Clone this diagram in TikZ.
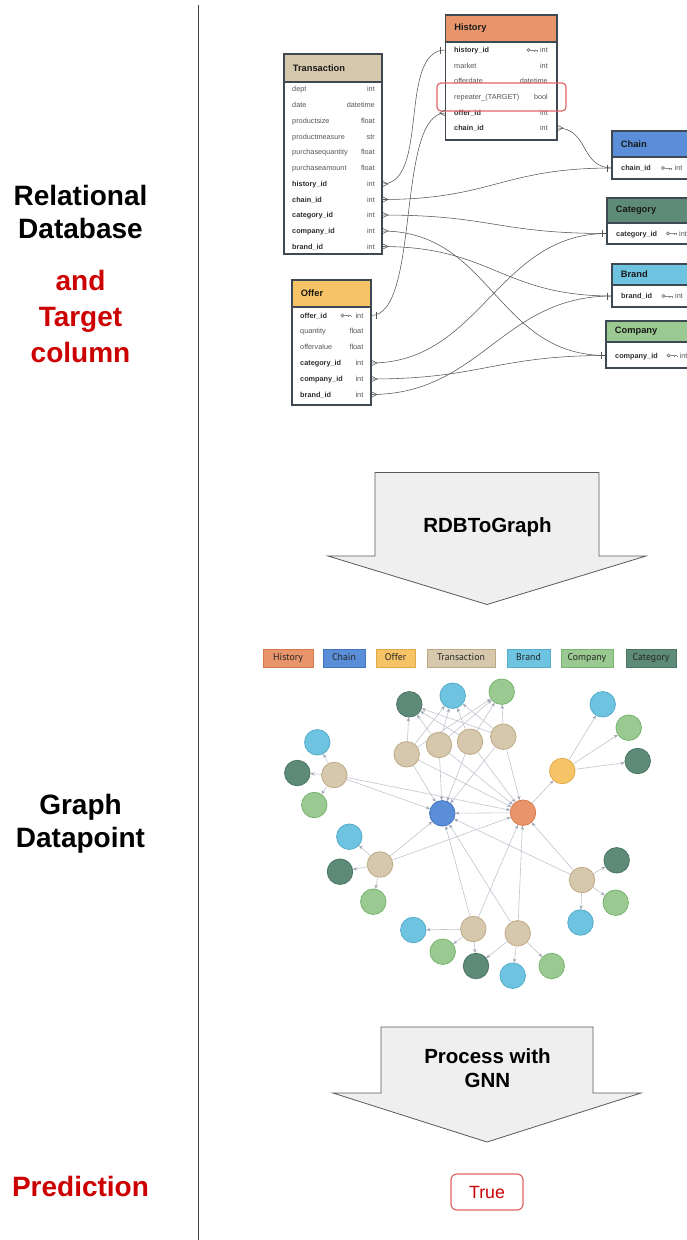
\documentclass[tikz,border=0pt]{standalone}
\usepackage{fontspec}
\setmainfont{Liberation Sans}
\newfontfamily\legfont{PT Sans}
\usetikzlibrary{arrows.meta,calc}
\pgfdeclarelayer{bg}
\pgfsetlayers{bg,main}
\definecolor{histc}{HTML}{E9956B}
\definecolor{histd}{HTML}{D67A4C}
\definecolor{chainc}{HTML}{5A8ED8}
\definecolor{chaind}{HTML}{4675BD}
\definecolor{offerc}{HTML}{F6C466}
\definecolor{offerd}{HTML}{E2A948}
\definecolor{transc}{HTML}{D6C8AD}
\definecolor{transd}{HTML}{BFA985}
\definecolor{brandc}{HTML}{6DC3E0}
\definecolor{brandd}{HTML}{55ADCB}
\definecolor{compc}{HTML}{9ACA92}
\definecolor{compd}{HTML}{78B46E}
\definecolor{catc}{HTML}{5E8B78}
\definecolor{catd}{HTML}{4A7463}
\definecolor{tblline}{HTML}{3E4954}
\definecolor{fkc}{HTML}{555555}
\definecolor{keyc}{HTML}{8A8A8A}
\definecolor{redline}{HTML}{E06666}
\definecolor{redtext}{HTML}{CC0000}
\definecolor{edgec}{HTML}{C2C4CE}
\definecolor{edgetip}{HTML}{A0A3B2}
\definecolor{arrowfill}{HTML}{EFEFEF}
\definecolor{arrowline}{HTML}{595959}
\definecolor{sepc}{HTML}{444444}
\definecolor{rowgray}{HTML}{555555}
\definecolor{rowdark}{HTML}{2E2E2E}

\tikzset{
  tbl/.style={draw=tblline, line width=1.1pt},
  tbltitle/.style={anchor=west, inner sep=0pt, font=\bfseries\fontsize{9.3}{10}\selectfont, text=black!90},
  keyrow/.style={inner sep=0pt, font=\bfseries\fontsize{7.3}{8}\selectfont, text=rowdark},
  plainrow/.style={inner sep=0pt, font=\fontsize{7.3}{8}\selectfont, text=rowgray},
  typetext/.style={inner sep=0pt, font=\fontsize{7.3}{8}\selectfont, text=rowgray},
  fkline/.style={draw=fkc, line width=0.55pt},
  keyicon/.pic={
    \draw[keyc, line width=0.9pt] (0,0) circle (1.6);
    \draw[keyc, line width=1pt] (1.6,0) -- (8.5,0) (6.3,0) -- (6.3,1.8) (8.5,0) -- (8.5,1.8);
  },
  manyR/.pic={\draw[fkline] (0,-3) -- (6,0) -- (0,3);},
  manyL/.pic={\draw[fkline] (0,-3) -- (-6,0) -- (0,3);},
  oneL/.pic={\draw[fkline] (-5,-3.5) -- (-5,3.5);},
  oneR/.pic={\draw[fkline] (5,-3.5) -- (5,3.5);},
  bigarrow/.style={fill=arrowfill, draw=arrowline, line width=0.8pt, line join=miter},
  biglabel/.style={anchor=base, inner sep=0pt, font=\bfseries\fontsize{20.5}{24}\selectfont},
  sidelabel/.style={anchor=base, inner sep=0pt, font=\bfseries\fontsize{28}{33}\selectfont},
  gnode/.style={circle, minimum size=25.5pt, inner sep=0pt, line width=0.8pt},
  ghist/.style={gnode, fill=histc, draw=histd},
  gchain/.style={gnode, fill=chainc, draw=chaind},
  goffer/.style={gnode, fill=offerc, draw=offerd},
  gtrans/.style={gnode, fill=transc, draw=transd},
  gbrand/.style={gnode, fill=brandc, draw=brandd},
  gcomp/.style={gnode, fill=compc, draw=compd},
  gcat/.style={gnode, fill=catc, draw=catd},
  gedge/.style={draw=edgec, line width=0.6pt, -{Stealth[length=4pt,width=3.4pt,color=edgetip,fill=edgetip]}},
  legbox/.style={minimum height=18pt, inner sep=0pt, text height=7pt, text depth=2pt, line width=0.8pt, font=\legfont\fontsize{9.8}{11}\selectfont, text=black!85},
}

\newcommand{\dbtbl}[8]{%
  \fill[#6] (#1,#2) rectangle (#3,#4);
  \fill[white] (#1,#4) rectangle (#3,#5);
  \draw[tbl] (#1,#4) -- (#3,#4);
  \draw[tbl] (#1,#2) rectangle (#3,#5);
  \node[tbltitle] (#8) at (#1+8.7,{(#2+#4)/2}) {#7};
}
\newcommand{\dbrow}[6]{%
  \node[#6, anchor=base west] at (#1,#3+2.6) {#4};
  \node[typetext, anchor=base east] at (#2,#3+2.6) {#5};
}

\begin{document}
\begin{tikzpicture}[x=1pt,y=-1pt]
\useasboundingbox (0,0) rectangle (687,1240);
\clip (0,0) rectangle (687,1240);

% separator
\draw[sepc, line width=0.8pt] (198.5,5) -- (198.5,1240);

% side labels
\node[sidelabel] (l1) at (80.5,205) {Relational};
\node[sidelabel] (l2) at (80.5,238) {Database};
\node[sidelabel, text=redtext] (l3) at (80.5,290) {and};
\node[sidelabel, text=redtext] (l4) at (80.5,326.5) {Target};
\node[sidelabel, text=redtext] (l5) at (80.5,362) {column};
\node[sidelabel] (l6) at (80.5,814) {Graph};
\node[sidelabel] (l7) at (80.5,847) {Datapoint};
\node[sidelabel, text=redtext] (l8) at (80.5,1196) {Prediction};

% ---------- tables ----------
% History
\dbtbl{445.5}{15}{557}{42}{140}{histc}{History}{tH}
\dbrow{454}{548}{50}{history\_id}{int}{keyrow}
\pic at (528.5,50) {keyicon};
\dbrow{454}{548}{65.5}{market}{int}{plainrow}
\dbrow{454}{548}{81}{offerdate}{datetime}{plainrow}
\dbrow{454}{548}{97}{repeater\_(TARGET)}{bool}{plainrow}
\dbrow{454}{548}{113}{offer\_id}{int}{keyrow}
\dbrow{454}{548}{128}{chain\_id}{int}{keyrow}

% Transaction
\dbtbl{284}{54}{382}{82}{254}{transc}{Transaction}{tT}
\dbrow{292}{375}{89}{dept}{int}{plainrow}
\dbrow{292}{375}{105}{date}{datetime}{plainrow}
\dbrow{292}{375}{121}{productsize}{float}{plainrow}
\dbrow{292}{375}{136.5}{productmeasure}{str}{plainrow}
\dbrow{292}{375}{152}{purchasequantity}{float}{plainrow}
\dbrow{292}{375}{168}{purchaseamount}{float}{plainrow}
\dbrow{292}{375}{184}{history\_id}{int}{keyrow}
\dbrow{292}{375}{199.5}{chain\_id}{int}{keyrow}
\dbrow{292}{375}{215}{category\_id}{int}{keyrow}
\dbrow{292}{375}{231}{company\_id}{int}{keyrow}
\dbrow{292}{375}{246.5}{brand\_id}{int}{keyrow}

% Offer
\dbtbl{292}{280}{371}{307}{405}{offerc}{Offer}{tO}
\dbrow{300}{363.5}{315.5}{offer\_id}{int}{keyrow}
\pic at (342.5,315.5) {keyicon};
\dbrow{300}{363.5}{331}{quantity}{float}{plainrow}
\dbrow{300}{363.5}{347}{offervalue}{float}{plainrow}
\dbrow{300}{363.5}{363}{category\_id}{int}{keyrow}
\dbrow{300}{363.5}{379}{company\_id}{int}{keyrow}
\dbrow{300}{363.5}{394.5}{brand\_id}{int}{keyrow}

% Chain
\dbtbl{612}{131}{700}{157}{179}{chainc}{Chain}{tC}
\node[keyrow, anchor=base west] at (621,170.6) {chain\_id};
\pic at (663,168) {keyicon};
\node[typetext, anchor=base west] at (674.5,170.6) {int};
% Category
\dbtbl{607}{198}{700}{223}{244}{catc}{Category}{tCa}
\node[keyrow, anchor=base west] at (616,236.1) {category\_id};
\pic at (668,233.5) {keyicon};
\node[typetext, anchor=base west] at (679,236.1) {int};
% Brand
\dbtbl{612}{264}{700}{285}{307}{brandc}{Brand}{tB}
\node[keyrow, anchor=base west] at (621,298.6) {brand\_id};
\pic at (663.5,296) {keyicon};
\node[typetext, anchor=base west] at (675,298.6) {int};
% Company
\dbtbl{606}{321}{700}{342}{368}{compc}{Company}{tCo}
\node[keyrow, anchor=base west] at (615,358.1) {company\_id};
\pic at (668.5,355.5) {keyicon};
\node[typetext, anchor=base west] at (679.5,358.1) {int};

% target highlight
\node[draw=redline, line width=1.2pt, rounded corners=4pt, minimum width=129pt, minimum height=28pt, inner sep=0pt] (target) at (501.5,97) {};

% connector end points
\coordinate (T-hist) at (382,184);
\coordinate (T-chain) at (382,199.5);
\coordinate (T-cat) at (382,215);
\coordinate (T-comp) at (382,231);
\coordinate (T-brand) at (382,246.5);
\coordinate (O-offer) at (371,315.5);
\coordinate (O-cat) at (371,363);
\coordinate (O-comp) at (371,379);
\coordinate (O-brand) at (371,394.5);
\coordinate (H-hist) at (445.5,50);
\coordinate (H-offer) at (445.5,113);
\coordinate (H-chain) at (557,128);
\coordinate (Ch-id) at (612,168);
\coordinate (Ca-id) at (607,233.5);
\coordinate (Br-id) at (612,296);
\coordinate (Co-id) at (606,355.5);

\draw[fkline] (T-hist) .. controls +(48,0) and +(-48,0) .. (H-hist);
\draw[fkline] (T-chain) .. controls +(110,0) and +(-110,0) .. (Ch-id);
\draw[fkline] (T-cat) .. controls +(110,0) and +(-110,0) .. (Ca-id);
\draw[fkline] (T-comp) .. controls +(110,0) and +(-110,0) .. (Co-id);
\draw[fkline] (T-brand) .. controls +(110,0) and +(-110,0) .. (Br-id);
\draw[fkline] (O-offer) .. controls +(50,0) and +(-50,0) .. (H-offer);
\draw[fkline] (H-chain) .. controls +(32,0) and +(-32,0) .. (Ch-id);
\draw[fkline] (O-cat) .. controls +(110,0) and +(-110,0) .. (Ca-id);
\draw[fkline] (O-comp) .. controls +(110,0) and +(-110,0) .. (Co-id);
\draw[fkline] (O-brand) .. controls +(110,0) and +(-110,0) .. (Br-id);

\pic at (T-hist) {manyR};
\pic at (T-chain) {manyR};
\pic at (T-cat) {manyR};
\pic at (T-comp) {manyR};
\pic at (T-brand) {manyR};
\pic at (O-cat) {manyR};
\pic at (O-comp) {manyR};
\pic at (O-brand) {manyR};
\pic at (O-offer) {oneR};
\pic at (H-chain) {manyR};
\pic at (H-offer) {manyL};
\pic at (H-hist) {oneL};
\pic at (Ch-id) {oneL};
\pic at (Ca-id) {oneL};
\pic at (Br-id) {oneL};
\pic at (Co-id) {oneL};

% ---------- RDBToGraph arrow ----------
\draw[bigarrow] (375,472.5) -- (599,472.5) -- (599,556) -- (646,556) -- (487,604.5) -- (328,556) -- (375,556) -- cycle;
\node[biglabel] (rdb) at (487.5,532) {RDBToGraph};

% ---------- legend ----------
\node[legbox, fill=histc, draw=histd, minimum width=50pt] (lgH) at (288,658) {History};
\node[legbox, fill=chainc, draw=chaind, minimum width=42pt] (lgC) at (344,658) {Chain};
\node[legbox, fill=offerc, draw=offerd, minimum width=39pt] (lgO) at (395.5,658) {Offer};
\node[legbox, fill=transc, draw=transd, minimum width=68pt] (lgT) at (461,658) {Transaction};
\node[legbox, fill=brandc, draw=brandd, minimum width=43pt] (lgB) at (528.5,658) {Brand};
\node[legbox, fill=compc, draw=compd, minimum width=52pt] (lgCo) at (587,658) {Company};
\node[legbox, fill=catc, draw=catd, minimum width=50pt] (lgCa) at (651,658) {Category};

% ---------- graph ----------
\node[ghist] (H) at (523,812.7) {};
\node[gchain] (C) at (442.3,813.3) {};
\node[goffer] (O) at (562.3,771) {};
\node[gtrans] (T1) at (406.7,754.3) {};
\node[gtrans] (T2) at (439,745) {};
\node[gtrans] (T3) at (470,741.7) {};
\node[gtrans] (T4) at (503.3,736.7) {};
\node[gtrans] (T5) at (334.3,775) {};
\node[gtrans] (T6) at (380,864.5) {};
\node[gtrans] (T7) at (582,880) {};
\node[gtrans] (T8) at (473.3,929) {};
\node[gtrans] (T9) at (517.7,933.3) {};
\node[gcat] (catA) at (409.3,704.3) {};
\node[gbrand] (brA) at (452.7,695.7) {};
\node[gcomp] (coA) at (501.7,691.7) {};
\node[gbrand] (brB) at (317.3,742.3) {};
\node[gcat] (catB) at (297.3,773) {};
\node[gcomp] (coB) at (314.3,805) {};
\node[gbrand] (brC) at (349.3,836.7) {};
\node[gcat] (catC) at (340,871.7) {};
\node[gcomp] (coC) at (373.3,901.7) {};
\node[gcat] (catD) at (616.7,860.3) {};
\node[gcomp] (coD) at (615.7,902.7) {};
\node[gbrand] (brD) at (580.5,922.5) {};
\node[gbrand] (brE) at (413.3,930) {};
\node[gcomp] (coE) at (442.7,951.7) {};
\node[gcat] (catE) at (476,966) {};
\node[gbrand] (brF) at (512.7,975.7) {};
\node[gcomp] (coF) at (551.7,966) {};
\node[gbrand] (brO) at (602.7,704.3) {};
\node[gcomp] (coO) at (628.7,727.7) {};
\node[gcat] (catO) at (637.7,761) {};

\begin{pgfonlayer}{bg}
\foreach \t in {T1,T2,T3,T4,T5,T6,T7,T8,T9} {
  \draw[gedge] (\t) -- (H);
  \draw[gedge] (\t) -- (C);
}
\foreach \t in {T1,T2,T3,T4} {
  \draw[gedge] (\t) -- (catA);
  \draw[gedge] (\t) -- (brA);
  \draw[gedge] (\t) -- (coA);
}
\draw[gedge] (T5) -- (brB);
\draw[gedge] (T5) -- (catB);
\draw[gedge] (T5) -- (coB);
\draw[gedge] (T6) -- (brC);
\draw[gedge] (T6) -- (catC);
\draw[gedge] (T6) -- (coC);
\draw[gedge] (T7) -- (catD);
\draw[gedge] (T7) -- (coD);
\draw[gedge] (T7) -- (brD);
\draw[gedge] (T8) -- (brE);
\draw[gedge] (T8) -- (coE);
\draw[gedge] (T8) -- (catE);
\draw[gedge] (T9) -- (catE);
\draw[gedge] (T9) -- (brF);
\draw[gedge] (T9) -- (coF);
\draw[gedge] (H) -- (O);
\draw[gedge] (H) -- (C);
\draw[gedge] (O) -- (brO);
\draw[gedge] (O) -- (coO);
\draw[gedge] (O) -- (catO);
\end{pgfonlayer}

% ---------- GNN arrow ----------
\draw[bigarrow] (381,1027) -- (593,1027) -- (593,1093) -- (641,1093) -- (487,1142) -- (333,1093) -- (381,1093) -- cycle;
\node[biglabel] (gnn1) at (487.5,1063) {Process with};
\node[biglabel] (gnn2) at (487.5,1087) {GNN};

% ---------- prediction ----------
\node[draw=redline, line width=1.2pt, rounded corners=6pt, minimum width=72pt, minimum height=36pt, inner sep=0pt] (pred) at (487,1192) {};
\node[anchor=base, inner sep=0pt, text=redtext, font=\fontsize{17.7}{20}\selectfont] (predtxt) at (487,1198.3) {True};
\end{tikzpicture}
\end{document}
